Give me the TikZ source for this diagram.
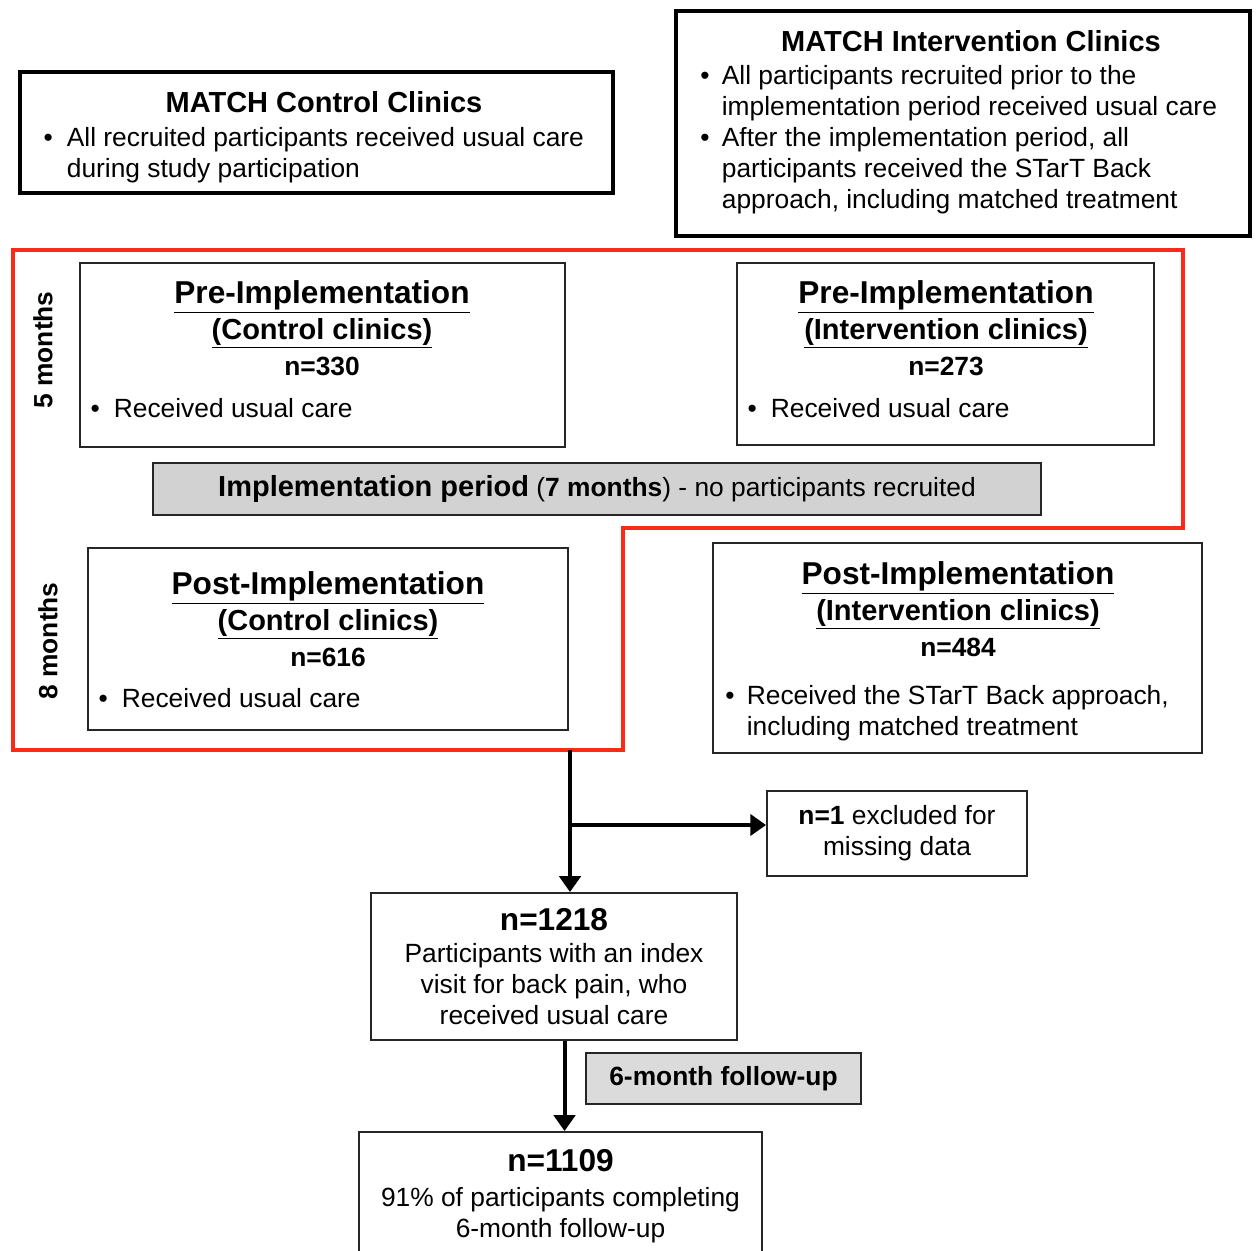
\documentclass[tikz,border=0pt]{standalone}
\usepackage{fontspec}
\setmainfont{Liberation Sans}
\usetikzlibrary{arrows.meta}
\definecolor{outline}{RGB}{250,42,24}
\newcommand{\bul}[1][8pt]{\llap{\textbullet\hspace{#1}}}
\newcommand{\subhead}[1]{\underline{\fontsize{16.5}{20.4}\selectfont #1}}
\tikzset{every picture/.style={line width=1pt}}

\begin{document}
\begin{tikzpicture}[x=0.02cm, y=-0.02cm,
    frame/.style={draw, line width=2pt, inner sep=0pt},
    box/.style={draw=black!85, line width=1.1pt, inner sep=0pt, align=center,
                font=\fontsize{15}{17.6}\selectfont},
    bar/.style={box, fill=gray!35},
    title/.style={inner sep=0pt, anchor=base, font=\fontsize{16.5}{19}\selectfont\bfseries},
    head/.style={inner sep=0pt, anchor=base, align=center, font=\fontsize{18}{20.4}\selectfont\bfseries},
    item/.style={inner sep=0pt, anchor=base west, align=left, font=\fontsize{15}{17.6}\selectfont},
    arr/.style={line width=2.3pt, -{Triangle[width=12pt,length=9pt]}}]
    \useasboundingbox (0,0) rectangle (1258,1251);
    % MATCH clinic summaries (multi-line texts sit on their last baseline)
    \node[frame, minimum width=11.86cm, minimum height=2.42cm] (ctrl) at (316.5,132.5) {};
    \node[title] (ctrlT) at (324,112) {MATCH Control Clinics};
    \node[item] (ctrlL) at (66,177) {\bul All recruited participants received usual care\\during study participation};
    \node[frame, minimum width=11.48cm, minimum height=4.5cm] (intv) at (963,123.5) {};
    \node[title] (intvT) at (971,51) {MATCH Intervention Clinics};
    \node[item] (intvL) at (721,208) {\bul[7pt]All participants recruited prior to the\\implementation period received usual care\\
        \bul[7pt]After the implementation period, all\\participants received the STarT Back\\approach, including matched treatment};
    % study periods
    \draw[outline, line width=1.8pt] (13,250) -- (1183,250) -- (1183,528) -- (623,528)
        -- (623,750) -- (13,750) -- cycle;
    \node[rotate=90, font=\fontsize{15}{18}\selectfont\bfseries] (five) at (43,350) {5 months};
    \node[rotate=90, font=\fontsize{15}{18}\selectfont\bfseries] (eight) at (48,641) {8 months};
    \node[box, minimum width=9.7cm, minimum height=3.68cm] (prectrl) at (322.5,355) {};
    \node[head] (prectrlT) at (322,375) {\underline{Pre-Implementation}\\\subhead{(Control clinics)}\\{\fontsize{15}{18}\selectfont n=330}};
    \node[item] (prectrlL) at (113,417) {\bul Received usual care};
    \node[box, minimum width=8.34cm, minimum height=3.64cm] (preint) at (945.5,354) {};
    \node[head] (preintT) at (946,375) {\underline{Pre-Implementation}\\\subhead{(Intervention clinics)}\\{\fontsize{15}{18}\selectfont n=273}};
    \node[item] (preintL) at (770,417) {\bul Received usual care};
    \node[bar, minimum width=17.76cm, minimum height=1.04cm] (impl) at (597,489)
        {{\fontsize{16.5}{19}\selectfont\bfseries Implementation period} (\textbf{7 months}) - no participants recruited};
    \node[box, minimum width=9.6cm, minimum height=3.64cm] (postctrl) at (328,639) {};
    \node[head] (postctrlT) at (328,666) {\underline{Post-Implementation}\\\subhead{(Control clinics)}\\{\fontsize{15}{18}\selectfont n=616}};
    \node[item] (postctrlL) at (121,707) {\bul Received usual care};
    \node[box, minimum width=9.78cm, minimum height=4.2cm] (postint) at (957.5,648) {};
    \node[head] (postintT) at (958,656) {\underline{Post-Implementation}\\\subhead{(Intervention clinics)}\\{\fontsize{15}{18}\selectfont n=484}};
    \node[item] (postintL) at (746,735) {\bul[7pt]Received the STarT Back approach,\\including matched treatment};
    % analysed sample
    \node[box, minimum width=5.2cm, minimum height=1.7cm] (excl) at (897,833.5) {\textbf{n=1} excluded for\\missing data};
    \node[box, minimum width=7.32cm, minimum height=2.94cm] (n1218) at (554,966.5)
        {{\fontsize{18}{20}\selectfont\bfseries n=1218}\\[1pt]Participants with an index\\visit for back pain, who\\received usual care};
    \node[bar, fill=gray!28, minimum width=5.5cm, minimum height=1.02cm] (fu) at (723.5,1078.5) {\textbf{6-month follow-up}};
    \node[box, minimum width=8.06cm, minimum height=2.56cm] (n1109) at (560.5,1196)
        {{\fontsize{18}{20}\selectfont\bfseries n=1109}\\[2pt]91\% of participants completing\\6-month follow-up};
    \coordinate (src) at (570,750);
    \coordinate (branch) at (570,825);
    \draw[arr] (src) -- (n1218.north -| src);
    \draw[arr] (branch) -- (branch -| excl.west);
    \draw[arr] ([xshift=6pt]n1218.south) -- ([xshift=6pt]n1218.south |- n1109.north);
\end{tikzpicture}
\end{document}
